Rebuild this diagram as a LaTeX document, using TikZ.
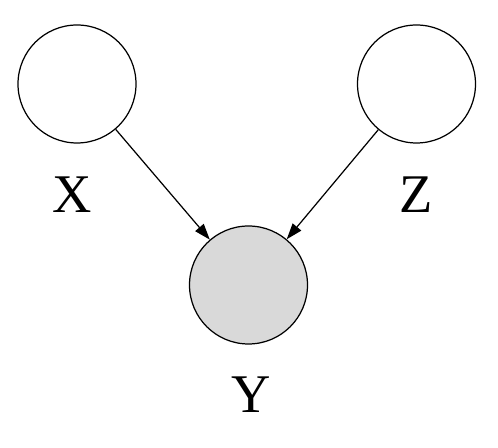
\documentclass[tikz,border=0pt]{standalone}
\usepackage{fontspec}
\setmainfont{Liberation Serif}
\usetikzlibrary{arrows.meta}

\begin{document}
\begin{tikzpicture}[
				vertex/.style={circle, draw, line width=0.7pt, inner sep=0pt, minimum size=2.36cm},
				edge/.style={line width=0.7pt, -{Triangle[length=0.32cm, width=0.22cm]}},
				varname/.style={font=\fontsize{31}{36}\selectfont, inner sep=0pt}
				]
				
				\useasboundingbox (0, 0) rectangle (9.96, 8.96);
				
				\node[vertex, fill=white] (x) at (1.54, 7.28) {};
				\node[vertex, fill=white] (z) at (8.33, 7.28) {};
				\node[vertex, fill=gray!30] (y) at (4.97, 3.26) {};
				
				\node[varname] (lx) at (1.44, 5.06) {X};
				\node[varname] (lz) at (8.32, 5.06) {Z};
				\node[varname] (ly) at (5.02, 1.06) {Y};
				
				\draw[edge] (x) -- (y);
				\draw[edge] (z) -- (y);
			\end{tikzpicture}
\end{document}
